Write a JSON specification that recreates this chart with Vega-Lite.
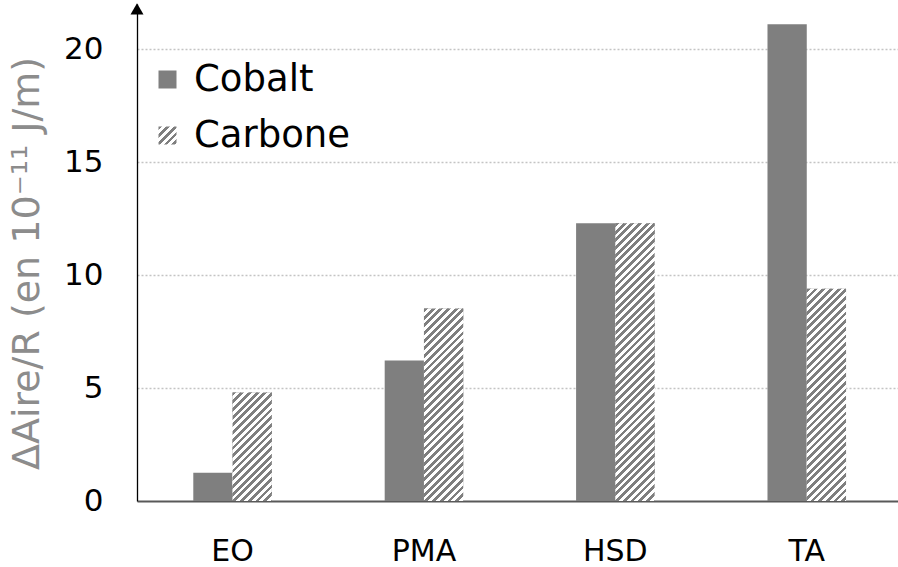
{
  "$schema": "https://vega.github.io/schema/vega-lite/v6.json",
  "width": 761,
  "height": 497,
  "autosize": {"type": "none"},
  "padding": {"left": 137, "top": 4, "right": 0, "bottom": 66},
  "background": "white",
  "params": [
    {"name": "stripes", "value": [
      {"offset":0,"color":"#7f7f7f"},{"offset":0.01,"color":"#7f7f7f"},{"offset":0.01,"color":"#fff"},{"offset":0.02,"color":"#fff"},
      {"offset":0.02,"color":"#7f7f7f"},{"offset":0.03,"color":"#7f7f7f"},{"offset":0.03,"color":"#fff"},{"offset":0.04,"color":"#fff"},
      {"offset":0.04,"color":"#7f7f7f"},{"offset":0.05,"color":"#7f7f7f"},{"offset":0.05,"color":"#fff"},{"offset":0.06,"color":"#fff"},
      {"offset":0.06,"color":"#7f7f7f"},{"offset":0.07,"color":"#7f7f7f"},{"offset":0.07,"color":"#fff"},{"offset":0.08,"color":"#fff"},
      {"offset":0.08,"color":"#7f7f7f"},{"offset":0.09,"color":"#7f7f7f"},{"offset":0.09,"color":"#fff"},{"offset":0.1,"color":"#fff"},
      {"offset":0.1,"color":"#7f7f7f"},{"offset":0.11,"color":"#7f7f7f"},{"offset":0.11,"color":"#fff"},{"offset":0.12,"color":"#fff"},
      {"offset":0.12,"color":"#7f7f7f"},{"offset":0.13,"color":"#7f7f7f"},{"offset":0.13,"color":"#fff"},{"offset":0.14,"color":"#fff"},
      {"offset":0.14,"color":"#7f7f7f"},{"offset":0.15,"color":"#7f7f7f"},{"offset":0.15,"color":"#fff"},{"offset":0.16,"color":"#fff"},
      {"offset":0.16,"color":"#7f7f7f"},{"offset":0.17,"color":"#7f7f7f"},{"offset":0.17,"color":"#fff"},{"offset":0.18,"color":"#fff"},
      {"offset":0.18,"color":"#7f7f7f"},{"offset":0.19,"color":"#7f7f7f"},{"offset":0.19,"color":"#fff"},{"offset":0.2,"color":"#fff"},
      {"offset":0.2,"color":"#7f7f7f"},{"offset":0.21,"color":"#7f7f7f"},{"offset":0.21,"color":"#fff"},{"offset":0.22,"color":"#fff"},
      {"offset":0.22,"color":"#7f7f7f"},{"offset":0.23,"color":"#7f7f7f"},{"offset":0.23,"color":"#fff"},{"offset":0.24,"color":"#fff"},
      {"offset":0.24,"color":"#7f7f7f"},{"offset":0.25,"color":"#7f7f7f"},{"offset":0.25,"color":"#fff"},{"offset":0.26,"color":"#fff"},
      {"offset":0.26,"color":"#7f7f7f"},{"offset":0.27,"color":"#7f7f7f"},{"offset":0.27,"color":"#fff"},{"offset":0.28,"color":"#fff"},
      {"offset":0.28,"color":"#7f7f7f"},{"offset":0.29,"color":"#7f7f7f"},{"offset":0.29,"color":"#fff"},{"offset":0.3,"color":"#fff"},
      {"offset":0.3,"color":"#7f7f7f"},{"offset":0.31,"color":"#7f7f7f"},{"offset":0.31,"color":"#fff"},{"offset":0.32,"color":"#fff"},
      {"offset":0.32,"color":"#7f7f7f"},{"offset":0.33,"color":"#7f7f7f"},{"offset":0.33,"color":"#fff"},{"offset":0.34,"color":"#fff"},
      {"offset":0.34,"color":"#7f7f7f"},{"offset":0.35,"color":"#7f7f7f"},{"offset":0.35,"color":"#fff"},{"offset":0.36,"color":"#fff"},
      {"offset":0.36,"color":"#7f7f7f"},{"offset":0.37,"color":"#7f7f7f"},{"offset":0.37,"color":"#fff"},{"offset":0.38,"color":"#fff"},
      {"offset":0.38,"color":"#7f7f7f"},{"offset":0.39,"color":"#7f7f7f"},{"offset":0.39,"color":"#fff"},{"offset":0.4,"color":"#fff"},
      {"offset":0.4,"color":"#7f7f7f"},{"offset":0.41,"color":"#7f7f7f"},{"offset":0.41,"color":"#fff"},{"offset":0.42,"color":"#fff"},
      {"offset":0.42,"color":"#7f7f7f"},{"offset":0.43,"color":"#7f7f7f"},{"offset":0.43,"color":"#fff"},{"offset":0.44,"color":"#fff"},
      {"offset":0.44,"color":"#7f7f7f"},{"offset":0.45,"color":"#7f7f7f"},{"offset":0.45,"color":"#fff"},{"offset":0.46,"color":"#fff"},
      {"offset":0.46,"color":"#7f7f7f"},{"offset":0.47,"color":"#7f7f7f"},{"offset":0.47,"color":"#fff"},{"offset":0.48,"color":"#fff"},
      {"offset":0.48,"color":"#7f7f7f"},{"offset":0.49,"color":"#7f7f7f"},{"offset":0.49,"color":"#fff"},{"offset":0.5,"color":"#fff"},
      {"offset":0.5,"color":"#7f7f7f"},{"offset":0.51,"color":"#7f7f7f"},{"offset":0.51,"color":"#fff"},{"offset":0.52,"color":"#fff"},
      {"offset":0.52,"color":"#7f7f7f"},{"offset":0.53,"color":"#7f7f7f"},{"offset":0.53,"color":"#fff"},{"offset":0.54,"color":"#fff"},
      {"offset":0.54,"color":"#7f7f7f"},{"offset":0.55,"color":"#7f7f7f"},{"offset":0.55,"color":"#fff"},{"offset":0.56,"color":"#fff"},
      {"offset":0.56,"color":"#7f7f7f"},{"offset":0.57,"color":"#7f7f7f"},{"offset":0.57,"color":"#fff"},{"offset":0.58,"color":"#fff"},
      {"offset":0.58,"color":"#7f7f7f"},{"offset":0.59,"color":"#7f7f7f"},{"offset":0.59,"color":"#fff"},{"offset":0.6,"color":"#fff"},
      {"offset":0.6,"color":"#7f7f7f"},{"offset":0.61,"color":"#7f7f7f"},{"offset":0.61,"color":"#fff"},{"offset":0.62,"color":"#fff"},
      {"offset":0.62,"color":"#7f7f7f"},{"offset":0.63,"color":"#7f7f7f"},{"offset":0.63,"color":"#fff"},{"offset":0.64,"color":"#fff"},
      {"offset":0.64,"color":"#7f7f7f"},{"offset":0.65,"color":"#7f7f7f"},{"offset":0.65,"color":"#fff"},{"offset":0.66,"color":"#fff"},
      {"offset":0.66,"color":"#7f7f7f"},{"offset":0.67,"color":"#7f7f7f"},{"offset":0.67,"color":"#fff"},{"offset":0.68,"color":"#fff"},
      {"offset":0.68,"color":"#7f7f7f"},{"offset":0.69,"color":"#7f7f7f"},{"offset":0.69,"color":"#fff"},{"offset":0.7,"color":"#fff"},
      {"offset":0.7,"color":"#7f7f7f"},{"offset":0.71,"color":"#7f7f7f"},{"offset":0.71,"color":"#fff"},{"offset":0.72,"color":"#fff"},
      {"offset":0.72,"color":"#7f7f7f"},{"offset":0.73,"color":"#7f7f7f"},{"offset":0.73,"color":"#fff"},{"offset":0.74,"color":"#fff"},
      {"offset":0.74,"color":"#7f7f7f"},{"offset":0.75,"color":"#7f7f7f"},{"offset":0.75,"color":"#fff"},{"offset":0.76,"color":"#fff"},
      {"offset":0.76,"color":"#7f7f7f"},{"offset":0.77,"color":"#7f7f7f"},{"offset":0.77,"color":"#fff"},{"offset":0.78,"color":"#fff"},
      {"offset":0.78,"color":"#7f7f7f"},{"offset":0.79,"color":"#7f7f7f"},{"offset":0.79,"color":"#fff"},{"offset":0.8,"color":"#fff"},
      {"offset":0.8,"color":"#7f7f7f"},{"offset":0.81,"color":"#7f7f7f"},{"offset":0.81,"color":"#fff"},{"offset":0.82,"color":"#fff"},
      {"offset":0.82,"color":"#7f7f7f"},{"offset":0.83,"color":"#7f7f7f"},{"offset":0.83,"color":"#fff"},{"offset":0.84,"color":"#fff"}
    ]}
  ],
  "config": {
    "view": {"stroke": null},
    "font": "DejaVu Sans",
    "legend": {
      "orient": "none",
      "legendX": 12,
      "legendY": 57,
      "padding": 0,
      "labelFont": "DejaVu Sans",
      "labelFontSize": 37,
      "labelColor": "black",
      "labelOffset": 8,
      "symbolType": "square",
      "symbolSize": 324,
      "symbolStrokeWidth": 0,
      "rowPadding": 18
    }
  },
  "datasets": {
    "bars": [
      {"cat": "EO", "serie": "Cobalt", "v": 1.25},
      {"cat": "EO", "serie": "Carbone", "v": 4.8},
      {"cat": "PMA", "serie": "Cobalt", "v": 6.22},
      {"cat": "PMA", "serie": "Carbone", "v": 8.52},
      {"cat": "HSD", "serie": "Cobalt", "v": 12.3},
      {"cat": "HSD", "serie": "Carbone", "v": 12.3},
      {"cat": "TA", "serie": "Cobalt", "v": 21.1},
      {"cat": "TA", "serie": "Carbone", "v": 9.4}
    ],
    "arrow": [{"top": 21.78}]
  },
  "layer": [
    {
      "data": {"name": "bars"},
      "encoding": {
        "x": {
          "field": "cat", "type": "nominal", "sort": ["EO", "PMA", "HSD", "TA"],
          "scale": {"paddingInner": 0.5896, "paddingOuter": 0.2828, "align": 0.52},
          "axis": {
            "title": null, "labelAngle": 0, "labelFont": "DejaVu Sans", "labelFontSize": 30,
            "labelColor": "black", "labelBaseline": "middle", "labelPadding": 50,
            "ticks": false, "tickSize": 0, "domainColor": "#595959", "domainWidth": 2, "grid": false
          }
        },
        "xOffset": {"field": "serie", "type": "nominal", "scale": {"domain": ["Cobalt", "Carbone"]}},
        "y": {
          "field": "v", "type": "quantitative",
          "scale": {"domain": [0, 22], "nice": false, "zero": true},
          "axis": {
            "title": "ΔAire/R (en 10⁻¹¹ J/m)",
            "titleFont": "DejaVu Sans", "titleFontSize": 38, "titleFontWeight": "normal",
            "titleColor": "#8c8c8c", "titleAngle": 270, "titleAlign": "center", "titleBaseline": "middle",
            "titleX": -110, "titleY": 259,
            "values": [0, 5, 10, 15, 20],
            "labelFont": "DejaVu Sans", "labelFontSize": 31, "labelColor": "black", "labelPadding": 34,
            "ticks": false, "tickSize": 0, "domainColor": "black", "domainWidth": 1.3,
            "grid": true, "gridColor": "#c4c4c4", "gridDash": [2, 2], "gridWidth": 1.5,
            "gridOpacity": {"condition": {"test": "datum.value === 0", "value": 0}, "value": 1}
          }
        }
      },
      "layer": [
        {
          "mark": {"type": "bar"},
          "encoding": {
            "color": {
              "field": "serie", "type": "nominal",
              "scale": {
                "domain": ["Cobalt", "Carbone"],
                "range": ["#7f7f7f", {"expr": "{gradient: 'linear', x1: 0, y1: 0, x2: 10.7, y2: 10.7, stops: stripes}"}]
              },
              "legend": {"title": null}
            }
          }
        },
        {
          "transform": [{"filter": "datum.serie === 'Carbone'"}],
          "mark": {
            "type": "bar",
            "fill": {"expr": "{gradient: 'linear', x1: 0, y1: 0, x2: 385 * bandwidth('xOffset') / (pow(bandwidth('xOffset'), 2) + pow(scale('y', 0) - scale('y', datum.v), 2)), y2: 385 * (scale('y', 0) - scale('y', datum.v)) / (pow(bandwidth('xOffset'), 2) + pow(scale('y', 0) - scale('y', datum.v), 2)), stops: stripes}"}
          }
        }
      ]
    },
    {
      "data": {"name": "arrow"},
      "mark": {"type": "point", "shape": "triangle-up", "filled": true, "color": "black", "opacity": 1, "size": 169},
      "encoding": {
        "x": {"datum": 0, "type": "quantitative", "scale": {"domain": [0, 1]}, "axis": null},
        "y": {"field": "top", "type": "quantitative"}
      }
    }
  ],
  "resolve": {"scale": {"x": "independent"}}
}
